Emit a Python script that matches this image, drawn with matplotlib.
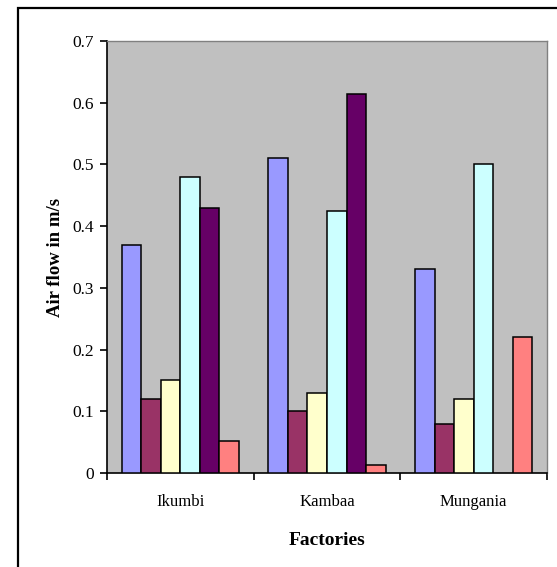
"""
Air flow measured at the three factories, grouped column chart.
"""
import numpy as np
import matplotlib
matplotlib.use('Agg')
import matplotlib.pyplot as plt
from matplotlib.patches import Rectangle

factories = ['Ikumbi', 'Kambaa', 'Mungania']

# one list per measuring point, values per factory (nan = no reading)
point_1 = [0.37, 0.51, 0.33]
point_2 = [0.12, 0.10, 0.08]
point_3 = [0.15, 0.13, 0.12]
point_4 = [0.48, 0.424, 0.50]
point_5 = [0.43, 0.614, np.nan]
point_6 = [0.052, 0.013, 0.22]

series = [point_1, point_2, point_3, point_4, point_5, point_6]
colors = ['#9999FF', '#993366', '#FFFFCC', '#CCFFFF', '#660066', '#FF8080']

y_ticks = [0, 0.1, 0.2, 0.3, 0.4, 0.5, 0.6, 0.7]

plt.rcParams['font.family'] = ['Liberation Serif', 'DejaVu Serif']

fig = plt.figure(figsize=(5.57, 5.67), dpi=100)
fig.patch.set_facecolor('white')

# outer chart frame (runs off the right and bottom edges)
fig.patches.append(Rectangle((18 / 557, -0.1), 1.2, 0.1 + 1 - 8 / 567,
                             transform=fig.transFigure, fill=False,
                             edgecolor='black', linewidth=1.6))

ax = fig.add_axes([107 / 557, 1 - 473 / 567, 440 / 557, 432 / 567])
ax.set_facecolor('#C0C0C0')

n = len(series)
width = 1 / (n + 1.5)  # gap width of 150%
x = np.arange(len(factories))
for i, (vals, c) in enumerate(zip(series, colors)):
    offs = (i - (n - 1) / 2) * width
    ax.bar(x + offs, vals, width=width, color=c, edgecolor='black',
           linewidth=1.1, zorder=3)

ax.set_xlim(-0.5, len(factories) - 0.5)
ax.set_ylim(0, 0.7)
ax.set_yticks(y_ticks)
ax.set_yticklabels(['0'] + [f'{v:.1f}' for v in y_ticks[1:]])

# category separators as ticks, names as minor labels
ax.set_xticks(np.arange(len(factories) + 1) - 0.5)
ax.set_xticklabels([])
ax.set_xticks(x, minor=True)
ax.set_xticklabels(factories, minor=True)
ax.tick_params(axis='x', which='minor', length=0, pad=15, labelsize=12)
ax.tick_params(axis='x', which='major', direction='out', length=5,
               width=1.2, color='black')
ax.tick_params(axis='y', direction='out', length=5, width=1.2,
               labelsize=12.5, pad=4.5)

for side in ['left', 'bottom']:
    ax.spines[side].set_color('black')
    ax.spines[side].set_linewidth(1.2)
for side in ['top', 'right']:
    ax.spines[side].set_color('#808080')
    ax.spines[side].set_linewidth(1.0)

ax.set_ylabel('Air flow in m/s', fontsize=13.5, fontweight='bold', labelpad=6)
ax.set_xlabel('Factories', fontsize=14, fontweight='bold', labelpad=16)

fig.savefig('out.png', dpi=100)
plt.close(fig)
